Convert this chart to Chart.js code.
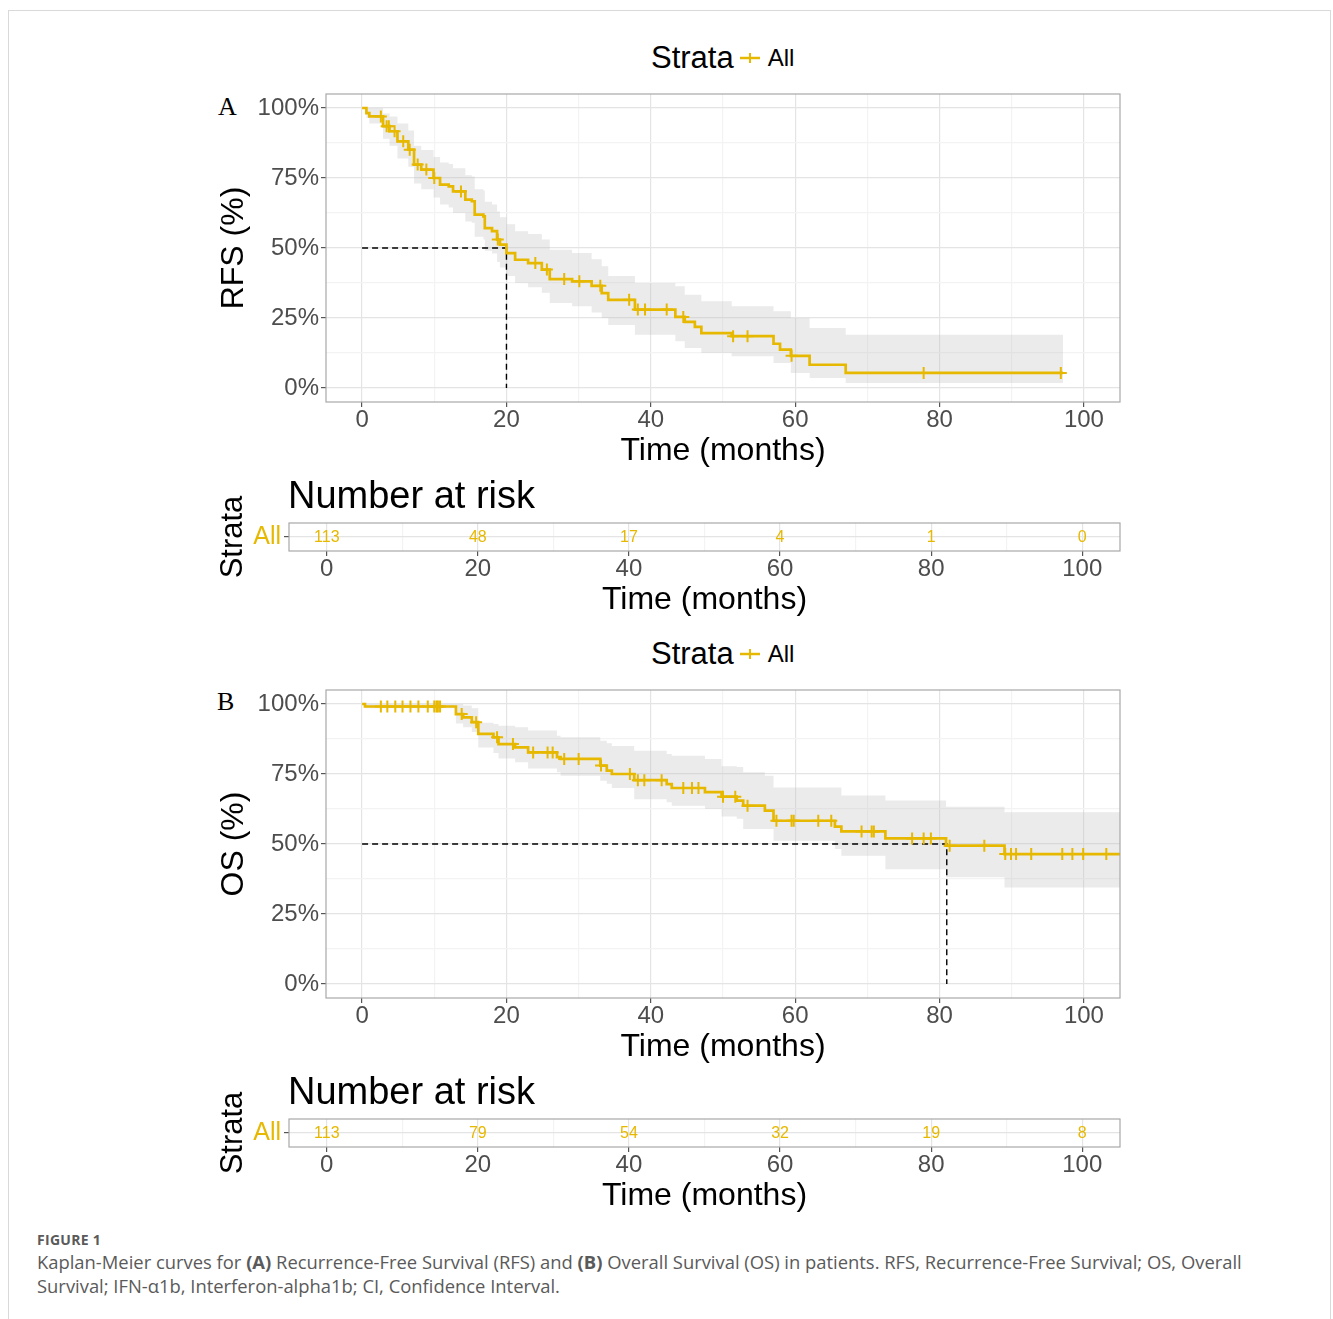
<!DOCTYPE html>
<html lang="en">
<head>
  <meta charset="UTF-8">
  <title>Kaplan-Meier curves</title>
  <script src="https://cdn.jsdelivr.net/npm/chart.js"></script>
  <style>
    body {
      margin: 0;
      background: #fff;
      font-family: "Liberation Sans", Arial, sans-serif;
    }
    .page {
      position: relative;
      width: 1333px;
      height: 1319px;
      overflow: hidden;
    }
    .frame {
      position: absolute;
      left: 8px;
      top: 10px;
      width: 1321px;
      height: 1320px;
      border: 1px solid #d9d9d9;
    }
    canvas {
      position: absolute;
    }
    .legend {
      position: absolute;
      left: 651px;
      height: 40px;
      display: flex;
      align-items: center;
      color: #000;
    }
    .legend .lt { font-size: 31px; }
    .legend svg { margin: 0 8px 0 6px; }
    .legend .li { font-size: 24px; }
    .tag {
      position: absolute;
      font-family: "Liberation Serif", "Times New Roman", serif;
      font-size: 26px;
      line-height: 26px;
    }
    .risk-title {
      position: absolute;
      left: 288px;
      font-size: 38px;
      line-height: 38px;
      color: #000;
    }
    .caption {
      position: absolute;
      left: 37px;
      top: 1230px;
      font-family: "Open Sans", "Noto Sans", sans-serif;
      color: #5a5a5a;
      white-space: nowrap;
    }
    .caption .fig {
      font-size: 14px;
      font-weight: bold;
      letter-spacing: 0.3px;
      line-height: 20px;
    }
    .caption .txt {
      font-size: 18.4px;
      line-height: 24px;
    }
  </style>
</head>
<body>
<div class="page">
  <div class="frame"></div>

  <div class="legend" style="top:38px">
    <span class="lt">Strata</span>
    <svg width="20" height="14"><line x1="0" y1="7" x2="20" y2="7" stroke="#E7B800" stroke-width="2.5"/><line x1="10" y1="2" x2="10" y2="12" stroke="#E7B800" stroke-width="2"/></svg>
    <span class="li">All</span>
  </div>
  <div class="tag" style="left:218px;top:94px">A</div>
  <canvas id="km-a" width="940" height="400" style="left:200px;top:80px"></canvas>
  <div class="risk-title" style="top:476px">Number at risk</div>
  <canvas id="risk-a" width="940" height="150" style="left:200px;top:470px"></canvas>

  <div class="legend" style="top:634px">
    <span class="lt">Strata</span>
    <svg width="20" height="14"><line x1="0" y1="7" x2="20" y2="7" stroke="#E7B800" stroke-width="2.5"/><line x1="10" y1="2" x2="10" y2="12" stroke="#E7B800" stroke-width="2"/></svg>
    <span class="li">All</span>
  </div>
  <div class="tag" style="left:217px;top:689px">B</div>
  <canvas id="km-b" width="940" height="400" style="left:200px;top:676px"></canvas>
  <div class="risk-title" style="top:1072px">Number at risk</div>
  <canvas id="risk-b" width="940" height="150" style="left:200px;top:1066px"></canvas>

  <div class="caption">
    <div class="fig">FIGURE 1</div>
    <div class="txt">Kaplan-Meier curves for <b>(A)</b> Recurrence-Free Survival (RFS) and <b>(B)</b> Overall Survival (OS) in patients. RFS, Recurrence-Free Survival; OS, Overall<br>Survival; IFN-α1b, Interferon-alpha1b; CI, Confidence Interval.</div>
  </div>
</div>
<script>
  // Axis ticks
  const timeTicks = [0, 10, 20, 30, 40, 50, 60, 70, 80, 90, 100];
  const timeLabels = [0, 20, 40, 60, 80, 100];
  const survTicks = [0, 12.5, 25, 37.5, 50, 62.5, 75, 87.5, 100];
  const survLabels = [0, 25, 50, 75, 100];
  const strataName = 'All';

  // RFS (A): step times (months), survival %, CI bounds %
  const rfsTime = [0, 0.6, 1.0, 2.9, 3.8, 4.9, 6.4, 7.2, 8.2, 9.9, 10.8, 12.0, 12.6, 14.3, 15.2, 15.6, 16.8, 17.0, 18.0, 18.7, 19.1, 20.0, 21.2, 23.0, 24.9, 26.0, 29.1, 31.8, 33.2, 34.1, 37.8, 43.4, 44.7, 46.1, 47.0, 51.2, 57.0, 57.9, 59.4, 62.0, 67.0, 97.1];
  const rfsSurv = [100, 98.2, 97.0, 93.5, 91.7, 88.1, 85.1, 79.8, 78.0, 75.0, 72.6, 72.0, 70.2, 67.3, 66.7, 61.9, 61.3, 57.1, 56.0, 53.0, 51.2, 48.2, 45.8, 44.6, 42.3, 38.9, 38.1, 36.5, 33.9, 31.5, 28.0, 25.4, 23.6, 21.8, 19.6, 18.5, 15.8, 13.7, 11.5, 8.3, 5.4, 5.4];
  const rfsUpper = [100, 100, 100, 98, 97, 94.5, 92, 86.5, 85, 82.5, 80.5, 80, 78.5, 76, 75.5, 71, 70.5, 66.5, 65.5, 63, 61, 58.5, 56, 55, 53, 49.4, 48.2, 46, 43.5, 40, 37.5, 36.3, 33.3, 33.3, 31, 29.2, 27.4, 27.4, 25, 21.4, 19, 19];
  const rfsLower = [100, 96.4, 94.5, 89, 86.5, 82, 79, 73, 71, 68, 65.5, 64.5, 62.5, 59.5, 59, 54, 53, 49, 48, 45, 43, 40, 37.5, 36, 34, 30.4, 29.2, 27, 25, 22.5, 19, 16.7, 14.3, 14.3, 12.5, 11.3, 8.9, 8.9, 5.4, 3.6, 1.8, 1.8];
  const rfsCensor = [2.6, 3.4, 3.7, 4.5, 5.7, 6.6, 7.7, 8.9, 10.0, 13.7, 18.8, 24.0, 25.6, 28.0, 30.1, 33.0, 37.0, 38.2, 39.2, 42.2, 44.5, 51.4, 53.4, 59.5, 77.8, 96.8];
  const rfsMedian = 20;

  // OS (B)
  const osTime = [0, 0.4, 13.0, 14.0, 15.2, 16.1, 18.2, 18.9, 21.2, 23.0, 27.0, 27.5, 33.0, 33.9, 34.6, 37.7, 42.2, 42.9, 47.5, 49.8, 51.9, 52.8, 55.8, 57.0, 65.5, 66.4, 72.5, 80.9, 89.0, 105];
  const osSurv = [100, 99.1, 96.4, 95.2, 93.5, 89.3, 88.1, 85.7, 84.5, 82.7, 81.0, 80.4, 78.0, 76.2, 75.0, 72.8, 71.4, 70.0, 68.5, 66.9, 65.5, 63.7, 61.9, 58.3, 56.2, 54.5, 52.0, 49.4, 46.4, 46.4];
  const osUpper = [100, 100, 100, 99.5, 98.5, 93.3, 92.9, 92.2, 91.7, 90.5, 88.7, 88.1, 86.9, 86, 85, 83.3, 82.1, 81.5, 80.4, 77.8, 77.5, 75.6, 74.4, 70.2, 70.2, 67.3, 65.5, 63.3, 61.3, 61.3];
  const osLower = [100, 98.5, 93, 91.7, 90, 84.5, 82.5, 80.5, 79.2, 77, 75.6, 74.4, 72.6, 71.5, 70, 66, 64.9, 63.7, 62.5, 59.8, 59, 55.4, 55.4, 51.2, 48.2, 45.8, 41, 38.1, 34.5, 34.5];
  const osCensor = [2.6, 3.5, 4.6, 5.6, 6.7, 7.8, 9.1, 10.0, 10.3, 10.5, 10.8, 13.8, 15.8, 18.7, 20.9, 23.7, 25.7, 26.4, 28.0, 30.0, 33.1, 37.1, 38.2, 39.1, 41.5, 44.5, 45.7, 46.6, 50.0, 51.7, 53.4, 57.4, 59.5, 59.8, 63.2, 65.0, 69.2, 70.6, 70.9, 76.2, 77.8, 78.8, 81.4, 86.2, 89.1, 89.9, 90.6, 92.7, 97.0, 98.4, 99.9, 103.1];
  const osMedian = 81;

  // Number at risk
  const riskTimes = [0, 20, 40, 60, 80, 100];
  const rfsRisk = [113, 48, 17, 4, 1, 0];
  const osRisk = [113, 79, 54, 32, 19, 8];

  const yellow = '#E7B800';
  const ribbon = 'rgba(190, 190, 190, 0.3)';
  const tickText = '#4d4d4d';
  const majorGrid = '#e4e4e4';
  const minorGrid = '#f3f3f3';

  Chart.defaults.font.family = '"Liberation Sans", Arial, sans-serif';

  const panelBorder = {
    id: 'panelBorder',
    afterDatasetsDraw(chart) {
      const { ctx, chartArea: a } = chart;
      ctx.save();
      ctx.strokeStyle = '#a8a8a8';
      ctx.lineWidth = 1.2;
      ctx.strokeRect(a.left, a.top, a.right - a.left, a.bottom - a.top);
      ctx.restore();
    }
  };

  // writes the counts at the points of the hidden risk dataset
  const riskText = {
    id: 'riskText',
    afterDatasetsDraw(chart) {
      const { ctx } = chart;
      const ds = chart.data.datasets[0];
      ctx.save();
      ctx.font = '16px "Liberation Sans", Arial, sans-serif';
      ctx.fillStyle = yellow;
      ctx.textAlign = 'center';
      ctx.textBaseline = 'middle';
      chart.getDatasetMeta(0).data.forEach((pt, i) => {
        ctx.fillText(String(ds.data[i].n), pt.x, pt.y + 1);
      });
      ctx.restore();
    }
  };

  function timeAxis(height, tickPad, titlePad) {
    return {
      type: 'linear', min: -5, max: 105,
      afterBuildTicks: s => { s.ticks = timeTicks.map(v => ({ value: v })); },
      afterFit: s => { s.height = height; },
      ticks: {
        autoSkip: false, maxRotation: 0, padding: tickPad, color: tickText,
        font: { size: 24, lineHeight: 1 },
        callback: v => timeLabels.includes(v) ? v : ''
      },
      grid: {
        color: c => timeLabels.includes(c.tick.value) ? majorGrid : minorGrid,
        tickColor: c => timeLabels.includes(c.tick.value) ? '#555' : 'rgba(0,0,0,0)',
        tickLength: 5, lineWidth: 1.2
      },
      border: { display: false },
      title: { display: true, text: 'Time (months)', color: '#000', font: { size: 32 }, padding: { top: 0, bottom: titlePad } }
    };
  }

  function kmChart(id, yTitle, time, surv, upper, lower, censor, median) {
    const pts = ys => time.map((t, i) => ({ x: t, y: ys[i] }));
    const survAt = t => {
      let s = surv[0];
      time.forEach((tt, i) => { if (tt <= t) s = surv[i]; });
      return s;
    };
    return new Chart(document.getElementById(id), {
      type: 'line',
      data: {
        datasets: [
          { data: censor.map(t => ({ x: t, y: survAt(t) })), showLine: false, pointStyle: 'cross',
            pointRadius: 6, pointBorderWidth: 2, borderColor: yellow, backgroundColor: yellow },
          { data: pts(surv), stepped: true, borderColor: yellow, borderWidth: 2.7, pointRadius: 0, fill: false },
          { data: [{ x: 0, y: 50 }, { x: median, y: 50 }, { x: median, y: 0 }], borderColor: '#000',
            borderWidth: 1.4, borderDash: [6, 4], pointRadius: 0, fill: false },
          { data: pts(upper), stepped: true, borderWidth: 0, pointRadius: 0, fill: '+1', backgroundColor: ribbon },
          { data: pts(lower), stepped: true, borderWidth: 0, pointRadius: 0, fill: false }
        ]
      },
      options: {
        responsive: false, animation: false, devicePixelRatio: 1, events: [],
        layout: { padding: { left: 0, right: 20, top: 14, bottom: 0 } },
        plugins: { legend: { display: false }, tooltip: { enabled: false } },
        scales: {
          x: timeAxis(78, 1, 10),
          y: {
            min: -5, max: 105,
            afterBuildTicks: s => { s.ticks = survTicks.map(v => ({ value: v })); },
            afterFit: s => { s.width = 126; },
            ticks: {
              autoSkip: false, padding: 2, color: tickText, font: { size: 24, lineHeight: 1 },
              callback: v => survLabels.includes(v) ? v + '%' : ''
            },
            grid: {
              color: c => survLabels.includes(c.tick.value) ? majorGrid : minorGrid,
              tickColor: c => survLabels.includes(c.tick.value) ? '#555' : 'rgba(0,0,0,0)',
              tickLength: 5, lineWidth: 1.2
            },
            border: { display: false },
            title: { display: true, text: yTitle, color: '#000', font: { size: 32 }, padding: { top: 15, bottom: 0 } }
          }
        }
      },
      plugins: [panelBorder]
    });
  }

  function riskChart(id, counts) {
    return new Chart(document.getElementById(id), {
      type: 'line',
      data: {
        datasets: [{ data: riskTimes.map((t, i) => ({ x: t, y: 1, n: counts[i] })), showLine: false, pointRadius: 0 }]
      },
      options: {
        responsive: false, animation: false, devicePixelRatio: 1, events: [],
        layout: { padding: { left: 0, right: 20, top: 53, bottom: 0 } },
        plugins: { legend: { display: false }, tooltip: { enabled: false } },
        scales: {
          x: timeAxis(69, 1, 1),
          y: {
            min: 0.5, max: 1.5,
            afterBuildTicks: s => { s.ticks = [{ value: 1 }]; },
            afterFit: s => { s.width = 89; },
            ticks: { padding: 3, color: yellow, font: { size: 25 }, callback: () => strataName },
            grid: { color: majorGrid, tickColor: '#555', tickLength: 5, lineWidth: 1.2 },
            border: { display: false },
            title: { display: true, text: 'Strata', color: '#000', font: { size: 31 }, padding: { top: 15, bottom: 0 } }
          }
        }
      },
      plugins: [panelBorder, riskText]
    });
  }

  kmChart('km-a', 'RFS (%)', rfsTime, rfsSurv, rfsUpper, rfsLower, rfsCensor, rfsMedian);
  riskChart('risk-a', rfsRisk);
  kmChart('km-b', 'OS (%)', osTime, osSurv, osUpper, osLower, osCensor, osMedian);
  riskChart('risk-b', osRisk);
</script>
</body>
</html>
